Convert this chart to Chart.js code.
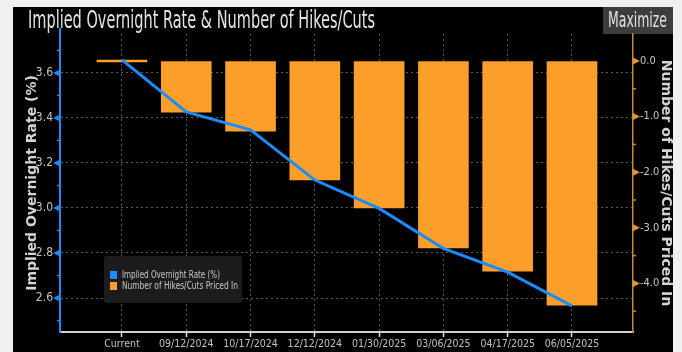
<!DOCTYPE html>
<html>
<head>
<meta charset="utf-8">
<script src="https://cdn.jsdelivr.net/npm/chart.js@4.4.1/dist/chart.umd.min.js"></script>
<style>
  html, body { margin: 0; padding: 0; background: #f0f0f0; }
  #wrap { width: 682px; height: 352px; }
</style>
</head>
<body>
<div id="wrap"><canvas id="myChart" width="682" height="352"></canvas></div>
<script>
// categories (meeting dates)
var cats = ['Current', '09/12/2024', '10/17/2024', '12/12/2024', '01/30/2025', '03/06/2025', '04/17/2025', '06/05/2025'];
// implied overnight rate (%)
var rate = [3.658, 3.427, 3.347, 3.124, 2.998, 2.82, 2.715, 2.565];
// number of hikes/cuts priced in
var hikes = [0, -0.92, -1.26, -2.14, -2.64, -3.36, -3.78, -4.39];
// tick labels
var rateTicks = [2.6, 2.8, 3.0, 3.2, 3.4, 3.6];
var rateMinor = [2.5, 2.7, 2.9, 3.1, 3.3, 3.5, 3.7];
var hikeTicks = [0, -1, -2, -3, -4];
var hikeMinor = [0.5, -0.5, -1.5, -2.5, -3.5, -4.5];

var NARROW = '"Liberation Sans Narrow", "DejaVu Sans Condensed", "Arial Narrow", sans-serif';
var BLUE = '#1a8cff';
var ORANGE = '#fb9f2a';

// background, title, maximize button, axis markers, legend
var bbgPlugin = {
  id: 'bbg',
  beforeDraw: function (chart) {
    var ctx = chart.ctx;
    ctx.save();
    ctx.fillStyle = '#000';
    ctx.fillRect(13, 7, 660, 345);
    // title
    ctx.fillStyle = '#e4e4e4';
    ctx.font = '25px ' + NARROW;
    ctx.textBaseline = 'alphabetic';
    ctx.fillText('Implied Overnight Rate & Number of Hikes/Cuts', 28, 28, 347);
    // maximize button
    ctx.fillStyle = '#3d3d3d';
    ctx.fillRect(603, 7, 70, 27);
    ctx.fillStyle = '#e0e0e0';
    ctx.font = '22px ' + NARROW;
    ctx.fillText('Maximize', 608, 27, 59);
    ctx.restore();
  },
  afterDatasetsDraw: function (chart) {
    var ctx = chart.ctx;
    ctx.save();
    // legend box
    ctx.fillStyle = '#1c1c1c';
    ctx.beginPath();
    ctx.roundRect(104, 256, 138, 47, 3);
    ctx.fill();
    var items = chart.data.datasets;
    ctx.font = '10px ' + NARROW;
    ctx.textBaseline = 'middle';
    for (var i = 0; i < items.length; i++) {
      var y = 275 + i * 11;
      ctx.fillStyle = items[i].type === 'line' ? items[i].borderColor : items[i].backgroundColor;
      ctx.fillRect(110, y - 4, 7, 8);
      ctx.fillStyle = '#c8c8c8';
      ctx.fillText(items[i].label, 122, y, i === 0 ? 98 : 116);
    }
    ctx.restore();
  },
  afterDraw: function (chart) {
    var ctx = chart.ctx;
    var yL = chart.scales.yL, yR = chart.scales.yR;
    var area = chart.chartArea;
    ctx.save();
    // extend left axis line a bit above the plot
    ctx.strokeStyle = BLUE;
    ctx.lineWidth = 2;
    ctx.beginPath();
    ctx.moveTo(area.left, 28);
    ctx.lineTo(area.left, area.top);
    ctx.stroke();
    // left axis markers
    ctx.fillStyle = BLUE;
    rateTicks.forEach(function (v) {
      var y = yL.getPixelForValue(v);
      ctx.beginPath();
      ctx.moveTo(area.left - 7, y);
      ctx.lineTo(area.left, y - 3.5);
      ctx.lineTo(area.left, y + 3.5);
      ctx.closePath();
      ctx.fill();
    });
    ctx.lineWidth = 1.5;
    rateMinor.forEach(function (v) {
      var y = yL.getPixelForValue(v);
      ctx.beginPath();
      ctx.moveTo(area.left - 3, y);
      ctx.lineTo(area.left, y);
      ctx.stroke();
    });
    // right axis markers
    ctx.fillStyle = '#e0982e';
    ctx.strokeStyle = '#c78a2e';
    hikeTicks.forEach(function (v) {
      var y = yR.getPixelForValue(v);
      ctx.beginPath();
      ctx.moveTo(area.right + 7, y);
      ctx.lineTo(area.right, y - 3.5);
      ctx.lineTo(area.right, y + 3.5);
      ctx.closePath();
      ctx.fill();
    });
    hikeMinor.forEach(function (v) {
      var y = yR.getPixelForValue(v);
      if (y < area.top || y > area.bottom) return;
      ctx.beginPath();
      ctx.moveTo(area.right, y);
      ctx.lineTo(area.right + 3, y);
      ctx.stroke();
    });
    ctx.restore();
  }
};

var ctx = document.getElementById('myChart').getContext('2d');

var myChart = new Chart(ctx, {
  type: 'bar',
  data: {
    datasets: [{
      type: 'line',
      label: 'Implied Overnight Rate (%)',
      data: rate.map(function (v, i) { return { x: i, y: v }; }),
      yAxisID: 'yL',
      borderColor: BLUE,
      borderWidth: 3,
      pointRadius: 0,
      tension: 0
    }, {
      type: 'bar',
      label: 'Number of Hikes/Cuts Priced In',
      data: hikes.map(function (v, i) { return { x: i, y: v }; }),
      yAxisID: 'yR',
      backgroundColor: ORANGE,
      barThickness: 50,
      minBarLength: 2
    }]
  },
  options: {
    responsive: false,
    animation: false,
    layout: { padding: { left: 13, right: 9, top: 34, bottom: 0 } },
    plugins: {
      legend: { display: false },
      tooltip: { enabled: false }
    },
    scales: {
      x: {
        type: 'linear',
        position: 'bottom',
        offset: false,
        min: -0.964,
        max: 7.949,
        afterBuildTicks: function (s) {
          s.ticks = cats.map(function (c, i) { return { value: i }; });
        },
        afterFit: function (s) { s.height = 20; },
        ticks: {
          callback: function (v) { return cats[v]; },
          autoSkip: false,
          maxRotation: 0,
          padding: 1,
          color: '#c0c0c0',
          font: { family: NARROW, size: 10.5 }
        },
        grid: {
          offset: false,
          color: '#5a5a5a',
          tickLength: 5,
          tickColor: '#dddddd',
          tickWidth: 1.5
        },
        border: { color: '#d0d0d0', width: 2, dash: [2, 3] }
      },
      yL: {
        type: 'linear',
        position: 'left',
        min: 2.449,
        max: 3.773,
        afterBuildTicks: function (s) {
          s.ticks = rateTicks.map(function (v) { return { value: v }; });
        },
        afterFit: function (s) { s.width = 47; },
        ticks: {
          callback: function (v) { return v.toFixed(1); },
          padding: 7,
          color: '#c4c4c4',
          font: { family: NARROW, size: 12 }
        },
        grid: { color: '#5a5a5a', drawTicks: false },
        border: { color: BLUE, width: 2, dash: [2, 3] },
        title: {
          display: true,
          text: 'Implied Overnight Rate (%)',
          color: '#d4d4d4',
          font: { family: '"DejaVu Sans", sans-serif', size: 14, weight: 'bold', lineHeight: 1 },
          padding: { top: 12, bottom: 0 }
        }
      },
      yR: {
        type: 'linear',
        position: 'right',
        min: -4.874,
        max: 0.486,
        afterBuildTicks: function (s) {
          s.ticks = hikeTicks.map(function (v) { return { value: v }; });
        },
        afterFit: function (s) { s.width = 40; },
        ticks: {
          callback: function (v) { return v.toFixed(1); },
          padding: 7,
          color: '#c4c4c4',
          font: { family: NARROW, size: 11 }
        },
        grid: { drawOnChartArea: false, drawTicks: false },
        border: { color: '#c78a2e', width: 1.5 },
        title: {
          display: true,
          text: 'Number of Hikes/Cuts Priced In',
          color: '#d4d4d4',
          font: { family: '"DejaVu Sans", sans-serif', size: 14, weight: 'bold', lineHeight: 1 },
          padding: { top: 0, bottom: 0 }
        }
      }
    }
  },
  plugins: [bbgPlugin]
});
</script>
</body>
</html>
